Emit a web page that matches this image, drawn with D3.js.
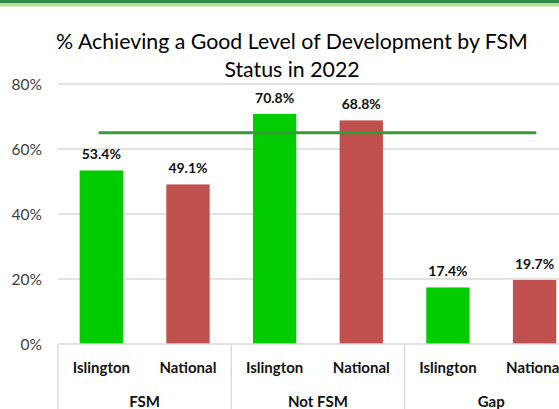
<!DOCTYPE html>
<html>
<head>
<meta charset="utf-8">
<script src="https://cdn.jsdelivr.net/npm/d3@7"></script>
<style>
html,body{margin:0;padding:0;background:#fff;overflow:hidden;}
svg{display:block;font-family:Lato,"Open Sans",sans-serif;}
</style>
</head>
<body>
<svg id="chart" width="559" height="409"></svg>
<script>
const groups = ["FSM", "Not FSM", "Gap"];
const subcats = ["Islington", "National"];
const islington = [53.4, 70.8, 17.4];
const national = [49.1, 68.8, 19.7];
const target = [65];
const yTicks = [0, 20, 40, 60, 80];
const title = ["% Achieving a Good Level of Development by FSM", "Status in 2022"];
const colors = {Islington: "#00cc00", National: "#c0504d"};

const data = [];
groups.forEach((g, i) => {
  data.push({group: g, sub: "Islington", value: islington[i]});
  data.push({group: g, sub: "National", value: national[i]});
});

const svg = d3.select("#chart");
const left = 58, groupW = 173.3;
const x0 = d3.scaleBand().domain(groups).range([left, left + groupW * groups.length]).padding(0);
const x1 = d3.scaleBand().domain(subcats).range([0, x0.bandwidth()]).paddingInner(0.5).paddingOuter(0.25);
const y = d3.scaleLinear().domain([0, 80]).range([344, 84]);

// top decorative bands
svg.append("rect").attr("x", 0).attr("y", 0).attr("width", 559).attr("height", 3).attr("fill", "#2f8a4a");
svg.append("rect").attr("x", 0).attr("y", 3).attr("width", 559).attr("height", 3.5).attr("fill", "#b5df8b");

// title
svg.append("g").selectAll("text").data(title).join("text")
  .attr("x", 292).attr("y", (d, i) => 49 + i * 28)
  .attr("text-anchor", "middle").attr("font-size", 21.3).attr("fill", "#000")
  .text(d => d);

// gridlines
svg.append("g").selectAll("line").data(yTicks.filter(d => d > 0)).join("line")
  .attr("x1", left).attr("x2", 559)
  .attr("y1", d => y(d)).attr("y2", d => y(d))
  .attr("stroke", "#d9d9d9").attr("stroke-width", 1.3);

// y axis labels
const yAxis = d3.axisLeft(y).tickValues(yTicks).tickFormat(d => d + "%").tickSize(0).tickPadding(0);
const ya = svg.append("g").attr("transform", "translate(42,0)").call(yAxis);
ya.select(".domain").remove();
ya.selectAll("text").attr("font-size", 15.5).attr("fill", "#404040")
  .attr("font-family", "Lato,'Open Sans',sans-serif").attr("dy", "0.36em");

// bars
svg.append("g").selectAll("rect").data(data).join("rect")
  .attr("x", d => x0(d.group) + x1(d.sub))
  .attr("width", x1.bandwidth())
  .attr("y", d => y(d.value))
  .attr("height", d => y(0) - y(d.value))
  .attr("fill", d => colors[d.sub]);

// value labels
svg.append("g").selectAll("text").data(data).join("text")
  .attr("x", d => x0(d.group) + x1(d.sub) + x1.bandwidth() / 2)
  .attr("y", d => y(d.value) - 11)
  .attr("text-anchor", "middle").attr("font-size", 14).attr("font-weight", "bold").attr("fill", "#111")
  .text(d => d.value.toFixed(1) + "%");

// target line
svg.append("g").selectAll("line").data(target).join("line")
  .attr("x1", 100).attr("x2", 535)
  .attr("y1", d => y(d)).attr("y2", d => y(d))
  .attr("stroke", "#3a9a3a").attr("stroke-width", 3.2).attr("stroke-linecap", "round");

// category axis box
const axisG = svg.append("g");
axisG.append("line").attr("x1", left).attr("x2", 559).attr("y1", y(0)).attr("y2", y(0))
  .attr("stroke", "#d9d9d9").attr("stroke-width", 1.3);
axisG.selectAll("line.sep").data(groups).join("line").attr("class", "sep")
  .attr("x1", d => x0(d)).attr("x2", d => x0(d)).attr("y1", y(0)).attr("y2", 409)
  .attr("stroke", "#d9d9d9").attr("stroke-width", 1.3);

// sub labels
axisG.selectAll("text.sub").data(data).join("text").attr("class", "sub")
  .attr("x", d => x0(d.group) + x1(d.sub) + x1.bandwidth() / 2)
  .attr("y", 373)
  .attr("text-anchor", "middle").attr("font-size", 15).attr("font-weight", "bold").attr("fill", "#111")
  .text(d => d.sub);

// group labels
axisG.selectAll("text.grp").data(groups).join("text").attr("class", "grp")
  .attr("x", d => x0(d) + x0.bandwidth() / 2)
  .attr("y", 407)
  .attr("text-anchor", "middle").attr("font-size", 15).attr("font-weight", "bold").attr("fill", "#111")
  .text(d => d);
</script>
</body>
</html>
